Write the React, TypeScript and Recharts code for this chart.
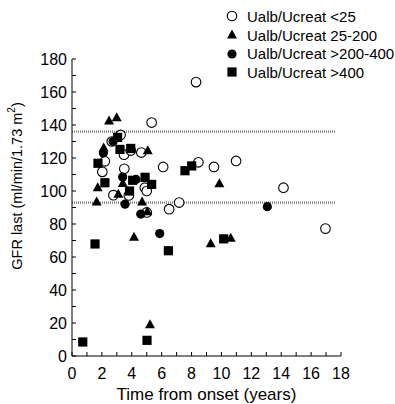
import {
  ScatterChart,
  Scatter,
  XAxis,
  YAxis,
  ReferenceLine,
  Label,
} from "recharts";

type Pt = { x: number; y: number };

// Ualb/Ucreat <25 (open circles)
const under25: Pt[] = [
  { x: 8.3, y: 166 }, { x: 5.33, y: 141.5 }, { x: 3.25, y: 134 }, { x: 2.66, y: 130 },
  { x: 3.48, y: 122 }, { x: 3.93, y: 124.5 }, { x: 4.64, y: 123.3 }, { x: 2.2, y: 118 },
  { x: 2.03, y: 111.6 }, { x: 3.5, y: 113.5 }, { x: 6.1, y: 114.6 }, { x: 8.46, y: 117.4 },
  { x: 9.5, y: 114.6 }, { x: 10.98, y: 118.2 }, { x: 4.87, y: 102 }, { x: 5.0, y: 100 },
  { x: 2.77, y: 97.5 }, { x: 3.8, y: 97.3 }, { x: 6.5, y: 89 }, { x: 7.17, y: 93 },
  { x: 5.0, y: 87 }, { x: 14.15, y: 102 }, { x: 16.96, y: 77.2 },
];

// Ualb/Ucreat 25-200 (triangles)
const from25to200: Pt[] = [
  { x: 2.48, y: 142.4 }, { x: 2.99, y: 144.4 }, { x: 2.12, y: 126 }, { x: 5.07, y: 124.4 },
  { x: 1.72, y: 102 }, { x: 3.4, y: 104.5 }, { x: 3.1, y: 98 }, { x: 1.65, y: 93.3 },
  { x: 4.69, y: 93.3 }, { x: 9.86, y: 104.4 }, { x: 5.04, y: 87.5 }, { x: 4.15, y: 72 },
  { x: 9.28, y: 68 }, { x: 10.62, y: 71.3 }, { x: 5.22, y: 19 },
];

// Ualb/Ucreat >200-400 (filled circles)
const from200to400: Pt[] = [
  { x: 2.1, y: 123 }, { x: 2.75, y: 130 }, { x: 3.39, y: 108.5 }, { x: 4.28, y: 107 },
  { x: 3.55, y: 92 }, { x: 4.6, y: 86 }, { x: 5.87, y: 74.2 }, { x: 13.07, y: 90.5 },
];

// Ualb/Ucreat >400 (squares)
const over400: Pt[] = [
  { x: 3.05, y: 132.5 }, { x: 3.21, y: 125.2 }, { x: 3.93, y: 125.8 }, { x: 1.74, y: 116.8 },
  { x: 2.2, y: 105 }, { x: 4.06, y: 106.5 }, { x: 4.89, y: 108.3 }, { x: 5.33, y: 104 },
  { x: 3.85, y: 100 }, { x: 7.56, y: 112.3 }, { x: 8.01, y: 115.2 }, { x: 1.54, y: 67.9 },
  { x: 6.45, y: 63.8 }, { x: 0.72, y: 8.5 }, { x: 5.02, y: 9.5 }, { x: 10.15, y: 71 },
];

const xTicks = [0, 1, 2, 3, 4, 5, 6, 7, 8, 9, 10, 11, 12, 13, 14, 15, 16, 17, 18];
const yTicks = [0, 10, 20, 30, 40, 50, 60, 70, 80, 90, 100, 110, 120, 130, 140, 150, 160, 170, 180];
const refLevels = [136, 93];
const refEndX = 17.6;

const legendItems = [
  { label: "Ualb/Ucreat <25", kind: "open" },
  { label: "Ualb/Ucreat 25-200", kind: "tri" },
  { label: "Ualb/Ucreat >200-400", kind: "dot" },
  { label: "Ualb/Ucreat >400", kind: "sq" },
];

const FONT = "'Liberation Sans', Arial, Helvetica, sans-serif";

const Marker = ({ kind, cx, cy }: { kind: string; cx: number; cy: number }) => {
  if (kind === "open")
    return <circle cx={cx} cy={cy} r={4.8} fill="#fff" stroke="#000" strokeWidth={1.1} />;
  if (kind === "tri")
    return <path d={`M${cx},${cy - 5.5}L${cx + 5},${cy + 3.5}L${cx - 5},${cy + 3.5}Z`} fill="#000" />;
  if (kind === "dot") return <circle cx={cx} cy={cy} r={4.6} fill="#000" />;
  return <rect x={cx - 4.6} y={cy - 4.6} width={9.2} height={9.2} fill="#000" />;
};

const shapeFor = (kind: string) => (props: any) =>
  <Marker kind={kind} cx={props.cx} cy={props.cy} />;

const YTick = (props: any) => {
  const { x, y, payload } = props;
  const axisX = x + 5;
  return (
    <g>
      <line x1={axisX} x2={axisX + 4} y1={y} y2={y} stroke="#000" strokeWidth={1} />
      {payload.value % 20 === 0 && (
        <text x={x} y={y} textAnchor="end" dominantBaseline="central" fontSize={16} fill="#000" fontFamily={FONT}>
          {payload.value}
        </text>
      )}
    </g>
  );
};

const XTick = (props: any) => {
  const { x, y, payload } = props;
  const axisY = y - 17;
  return (
    <g>
      <line x1={x} x2={x} y1={axisY} y2={axisY - 4} stroke="#000" strokeWidth={1} />
      {payload.value % 2 === 0 && (
        <text x={x} y={y} textAnchor="middle" dominantBaseline="central" fontSize={16} fill="#000" fontFamily={FONT}>
          {payload.value}
        </text>
      )}
    </g>
  );
};

const LegendBox = () => (
  <div
    style={{
      position: "absolute",
      left: 224,
      top: 7,
      fontFamily: FONT,
      fontSize: 15,
      color: "#000",
      lineHeight: "19px",
      whiteSpace: "nowrap",
    }}
  >
    {legendItems.map((it) => (
      <div key={it.label} style={{ display: "flex", alignItems: "center", height: 18.7 }}>
        <svg width={16} height={14} style={{ marginRight: 7 }}>
          <Marker kind={it.kind} cx={8} cy={7} />
        </svg>
        <span>{it.label}</span>
      </div>
    ))}
  </div>
);

export default function App() {
  return (
    <div style={{ position: "absolute", left: 0, top: 0, width: 395, height: 404, background: "#fff" }}>
      <ScatterChart width={395} height={404} margin={{ top: 59, right: 54, bottom: 0, left: 0 }}>
        <XAxis
          type="number"
          dataKey="x"
          domain={[0, 18]}
          ticks={xTicks}
          interval={0}
          height={48}
          tickSize={0}
          tickMargin={17}
          tickLine={false}
          axisLine={{ stroke: "#000" }}
          tick={XTick}
        >
          <Label
            position="insideBottom"
            offset={4}
            value="Time from onset (years)"
            style={{ fontSize: 17, fill: "#000", fontFamily: FONT }}
          />
        </XAxis>
        <YAxis
          type="number"
          dataKey="y"
          domain={[0, 180]}
          ticks={yTicks}
          interval={0}
          width={72}
          tickSize={0}
          tickMargin={5}
          tickLine={false}
          axisLine={{ stroke: "#000" }}
          tick={YTick}
        >
          <Label
            content={() => (
              <text
                x={17}
                y={186}
                transform="rotate(-90 17 186)"
                textAnchor="middle"
                dominantBaseline="central"
                fontSize={14.5}
                fill="#000"
                fontFamily={FONT}
              >
                GFR last (ml/min/1.73 m
                <tspan dy={-6} fontSize={10}>2</tspan>
                <tspan dy={6}>)</tspan>
              </text>
            )}
          />
        </YAxis>
        {refLevels.map((v) => (
          <ReferenceLine
            key={v}
            segment={[{ x: 0, y: v }, { x: refEndX, y: v }]}
            stroke="#7a7a7a"
            strokeWidth={2.2}
            strokeDasharray="1 1"
          />
        ))}
        <Scatter name="Ualb/Ucreat <25" data={under25} shape={shapeFor("open")} isAnimationActive={false} />
        <Scatter name="Ualb/Ucreat 25-200" data={from25to200} shape={shapeFor("tri")} isAnimationActive={false} />
        <Scatter name="Ualb/Ucreat >200-400" data={from200to400} shape={shapeFor("dot")} isAnimationActive={false} />
        <Scatter name="Ualb/Ucreat >400" data={over400} shape={shapeFor("sq")} isAnimationActive={false} />
      </ScatterChart>
      <LegendBox />
    </div>
  );
}
